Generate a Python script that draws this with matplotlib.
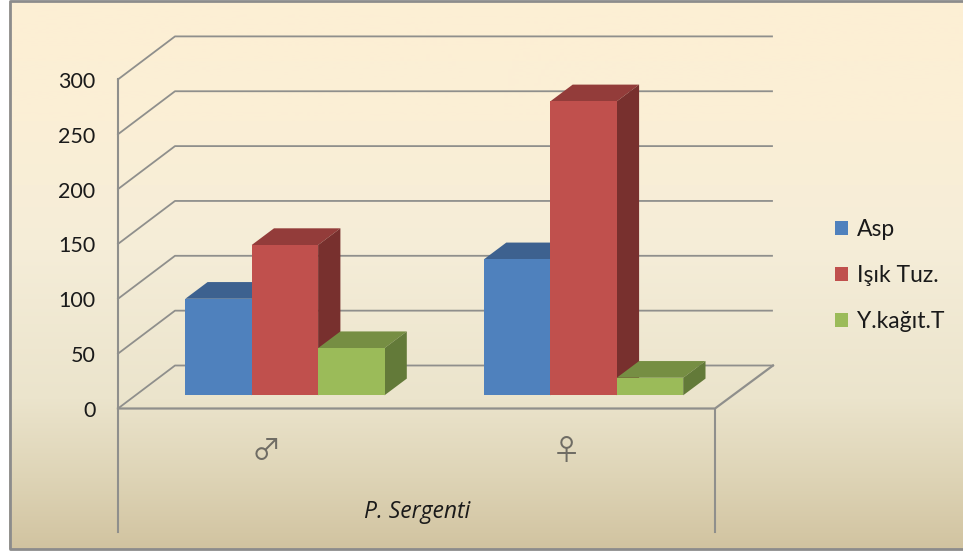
import numpy as np
import matplotlib
matplotlib.use("Agg")
import matplotlib.pyplot as plt
from matplotlib.patches import Polygon, Patch

groups = ["\u2642", "\u2640"]
series = ["Asp", "I\u015f\u0131k Tuz.", "Y.ka\u011f\u0131t.T"]
asp = [88, 124]
isik = [137, 268]
kagit = [43, 16]
yticks = [0, 50, 100, 150, 200, 250, 300]

front = ["#4F81BD", "#C0504D", "#9BBB59"]
top = ["#3D618F", "#933C3A", "#768E43"]
side = ["#355578", "#78302E", "#637A39"]
grid_c = "#8f8f8c"

W, H = 963, 552
px = 1.097  # pixels per value unit
y0 = 408.5  # pixel row of value 0 on the front edge


def col(p):
    return p / px


fig = plt.figure(figsize=(W / 100, H / 100), dpi=100, facecolor="white")
ax = fig.add_axes([0, 0, 1, 1])
ax.axis("off")

# background
stops_y = [0, 120, 250, 400, 480, 552]
stops_c = np.array([[253, 239, 212], [251, 239, 214], [245, 237, 216],
                    [235, 228, 204], [222, 212, 182], [209, 195, 160]]) / 255
rows = np.arange(H)
grad = np.stack([np.interp(rows, stops_y, stops_c[:, i]) for i in range(3)], axis=1)
ax.imshow(grad[:, None, :], extent=(9, W, col(y0 - 549), col(y0 - 1)),
          aspect="auto", zorder=0)
ax.set_xlim(0, W)
ax.set_ylim((y0 - H) / px, y0 / px)
# outer frame, open on the right
ax.plot([W + 5, 9.5, 9.5, W + 5], [col(y0 - 1), col(y0 - 1), col(y0 - 549), col(y0 - 549)],
        color="#8c8c8c", lw=2, zorder=1)

# walls and grid
xl, xr = 118, 715
dx, dy = 57, col(43)
for v in yticks:
    ax.plot([xl, xl + dx, xr + dx + 1 if v == 0 else xr + dx], [v, v + dy, v + dy],
            color=grid_c, lw=1.3, zorder=2)
    ax.text(95.5, v - col(2.5), str(v), ha="right", va="center", fontsize=15.5,
            family="Lato", color="#1a1a1a", zorder=6)
ax.plot([xl, xr, xr + dx + 1], [0, 0, dy], color=grid_c, lw=1.6, zorder=3)
ax.plot([xl, xl], [300, col(y0 - 532)], color=grid_c, lw=1.5, zorder=3)
ax.plot([xr, xr], [0, col(y0 - 532)], color=grid_c, lw=1.5, zorder=3)

# bars
base = col(y0 - 395.3)
bw = 66.4
bdx, bdy = 22.3, col(16.7)
starts = [185.3, 484]
handles = []
for i, vals in enumerate([asp, isik, kagit]):
    for g in range(len(groups)):
        x = starts[g] + i * bw
        h = base + vals[g]
        ax.bar(x, vals[g], width=bw, bottom=base, align="edge", color=front[i],
               lw=0, zorder=5 + i * 0.1)
        ax.add_patch(Polygon([(x, h), (x + bdx, h + bdy), (x + bw + bdx, h + bdy), (x + bw, h)],
                             fc=top[i], lw=0, zorder=4 + i * 0.1))
        ax.add_patch(Polygon([(x + bw, base), (x + bw + bdx, base + bdy),
                              (x + bw + bdx, h + bdy), (x + bw, h)],
                             fc=side[i], lw=0, zorder=4 + i * 0.1))
    handles.append(Patch(fc=front[i], lw=0, label=series[i]))

# category labels
for g, cx in zip(groups, [266, 566]):
    ax.text(cx, col(y0 - 452), g, ha="center", va="center", fontsize=21,
            family=["Noto Sans CJK JP", "DejaVu Sans"], color="#6f6c64", zorder=6)
ax.text(417, col(y0 - 512.5), "P. Sergenti", ha="center", va="center", fontsize=16.5,
        family="Open Sans", style="italic", color="#1a1a1a", zorder=6)

leg = ax.legend(handles=handles, loc="center left", bbox_to_anchor=(835 / W, 1 - 275.5 / H),
                frameon=False, prop={"family": "Lato", "size": 16.5}, labelcolor="#1a1a1a",
                handlelength=0.57, handleheight=0.57, handletextpad=0.38,
                labelspacing=1.09, borderpad=0, borderaxespad=0)
leg.set_zorder(7)

fig.savefig("out.png", dpi=100, facecolor="white")
